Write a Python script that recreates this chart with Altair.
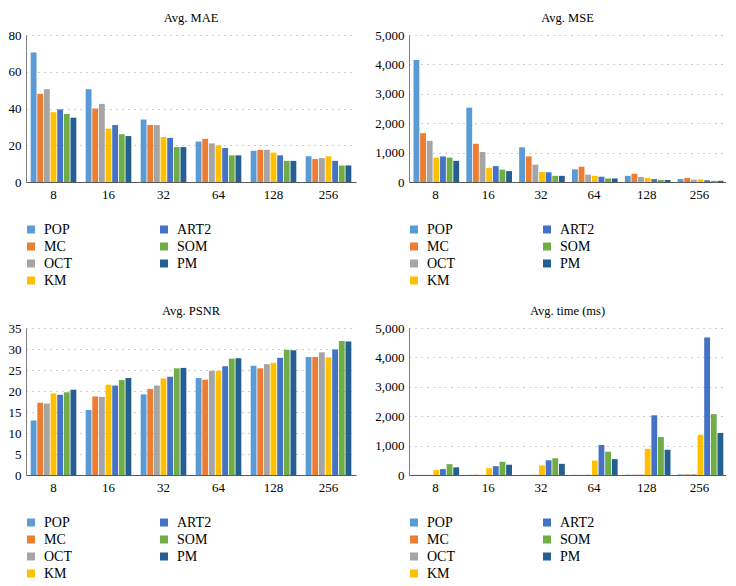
import altair as alt
import pandas as pd

sizes = ["8", "16", "32", "64", "128", "256"]
methods = ["POP", "MC", "OCT", "KM", "ART2", "SOM", "PM"]
colors = ["#5B9BD5", "#ED7D31", "#A5A5A5", "#FFC000", "#4472C4", "#70AD47", "#255E91"]

mae = {
    "POP": [70.5, 50.5, 34, 22, 17, 14],
    "MC": [48, 40, 31, 23.5, 17.5, 12.5],
    "OCT": [50.5, 42.5, 31, 21, 17.5, 13],
    "KM": [38, 29, 24.5, 20, 16, 14],
    "ART2": [39.5, 31, 24, 18.5, 14.5, 11.5],
    "SOM": [37, 26, 19, 14.5, 11.5, 9],
    "PM": [35, 25, 19, 14.5, 11.5, 9],
}
mse = {
    "POP": [4150, 2530, 1180, 430, 210, 100],
    "MC": [1660, 1300, 870, 520, 280, 140],
    "OCT": [1400, 1020, 590, 250, 170, 80],
    "KM": [830, 480, 340, 210, 140, 90],
    "ART2": [870, 540, 330, 180, 100, 60],
    "SOM": [830, 420, 210, 120, 70, 40],
    "PM": [720, 370, 210, 120, 70, 40],
}
psnr = {
    "POP": [13, 15.5, 19.2, 23.1, 26, 28.1],
    "MC": [17.2, 18.7, 20.5, 22.7, 25.4, 28.1],
    "OCT": [17, 18.6, 21.3, 24.8, 26.4, 29.2],
    "KM": [19.4, 21.5, 23, 24.8, 26.7, 28],
    "ART2": [19.1, 21.3, 23.4, 25.9, 27.9, 29.9],
    "SOM": [19.7, 22.6, 25.4, 27.7, 29.8, 31.9],
    "PM": [20.3, 23.1, 25.5, 27.8, 29.7, 31.8],
}
time_ms = {
    "POP": [5, 5, 5, 5, 10, 20],
    "MC": [5, 5, 5, 5, 10, 20],
    "OCT": [5, 5, 10, 10, 15, 30],
    "KM": [170, 230, 330, 490, 890, 1370],
    "ART2": [200, 300, 500, 1020, 2030, 4680],
    "SOM": [370, 450, 570, 790, 1290, 2070],
    "PM": [260, 350, 380, 540, 860, 1430],
}

FONT = "'Liberation Serif', 'Times New Roman', serif"


def to_df(d):
    rows = []
    for m in methods:
        for s, v in zip(sizes, d[m]):
            rows.append({"size": s, "method": m, "value": v})
    return pd.DataFrame(rows)


def bars(d, title, ymax, step, width, fmt):
    return alt.Chart(to_df(d)).mark_bar().encode(
        x=alt.X("size:N", sort=sizes, title=None,
                scale=alt.Scale(paddingInner=0.17, paddingOuter=0.085),
                axis=alt.Axis(labelAngle=0, ticks=False, domainColor="#595959",
                              labelPadding=6, grid=False)),
        xOffset=alt.XOffset("method:N", sort=methods,
                            scale=alt.Scale(domain=methods, paddingInner=0.12)),
        y=alt.Y("value:Q", title=None,
                scale=alt.Scale(domain=[0, ymax], nice=False),
                axis=alt.Axis(values=list(range(0, ymax + 1, step)), format=fmt,
                              ticks=False, grid=True, gridDash=[1, 5],
                              gridColor="#9a9a9a", domainColor="#7f7f7f",
                              labelPadding=5)),
        color=alt.Color("method:N", scale=alt.Scale(domain=methods, range=colors),
                        legend=None),
    ).properties(width=width, height=147, title=title)


legend_df = pd.DataFrame({
    "method": methods,
    "col": [i // 4 for i in range(len(methods))],
    "row": [i % 4 for i in range(len(methods))],
})


def legend(width):
    base = alt.Chart(legend_df).encode(
        x=alt.X("col:Q", scale=alt.Scale(domain=[0, 1], range=[5, 138]), axis=None),
        y=alt.Y("row:Q", scale=alt.Scale(domain=[-0.5, 3.5], reverse=True), axis=None),
    )
    sq = base.mark_square(size=64, opacity=1).encode(
        color=alt.Color("method:N", scale=alt.Scale(domain=methods, range=colors),
                        legend=None))
    tx = base.mark_text(align="left", baseline="middle", dx=13, fontSize=14,
                        font=FONT, color="#000").encode(text="method:N")
    return alt.layer(sq, tx).properties(width=width, height=68)


W1, W2 = 330, 317
chart = alt.concat(
    bars(mae, "Avg. MAE", 80, 20, W1, "d"),
    bars(mse, "Avg. MSE", 5000, 1000, W2, ",d"),
    legend(W1),
    legend(W2),
    bars(psnr, "Avg. PSNR", 35, 5, W1, "d"),
    bars(time_ms, "Avg. time (ms)", 5000, 1000, W2, ",d"),
    legend(W1),
    legend(W2),
    columns=2,
    spacing={"row": 39, "column": 53},
    bounds="flush",
    align="each",
).configure_view(stroke=None).configure_axis(
    labelFont=FONT, labelFontSize=13, labelColor="#000"
).configure_title(
    font=FONT, fontSize=12.5, fontWeight="normal", color="#000", offset=5, anchor="middle"
).properties(padding={"top": 3, "left": 0, "right": 0, "bottom": 0})

chart.save("out.html", embed_options={"renderer": "svg", "actions": False})
